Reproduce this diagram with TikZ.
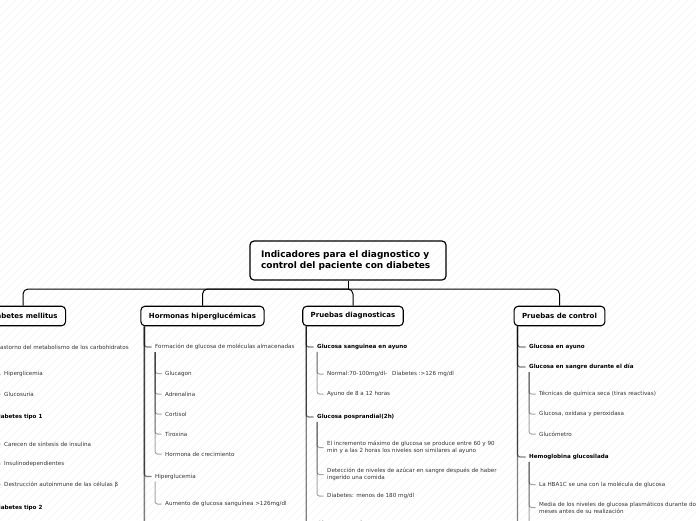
\documentclass[tikz,border=0pt]{standalone}
\usepackage{fontspec}
\setmainfont{DejaVu Sans}
\usepackage{tikz}
\usetikzlibrary{positioning,calc}

\newcommand{\fnroot}{\fontsize{9}{11}\selectfont\bfseries}
\newcommand{\fntopic}{\fontsize{7}{8.5}\selectfont\bfseries}
\newcommand{\fnsub}{\fontsize{5.6}{7}\selectfont\bfseries}
\newcommand{\fnleaf}{\fontsize{5.6}{7}\selectfont}

\begin{document}
\begin{tikzpicture}[
    x=1pt, y=-1pt,
    root/.style={rectangle, rounded corners=4pt, draw=black, line width=1.2pt,
                 align=left, text width=174pt, inner xsep=11pt, minimum height=39pt, font=\fnroot},
    topic/.style={rectangle, rounded corners=4pt, draw=black, line width=1.1pt,
                  minimum height=19.5pt, inner xsep=8pt, font=\fntopic},
    sub/.style={anchor=west, inner sep=0pt, align=left, text=black, font=\fnsub},
    leaf/.style={anchor=west, inner sep=0pt, align=left, text=black!80, font=\fnleaf},
    edge/.style={draw=black, line width=1pt, rounded corners=5pt},
    branch/.style={draw=black, draw opacity=0.5, line width=1.3pt, rounded corners=2.5pt, shorten >=3.5pt},
    twig/.style={draw=black, draw opacity=0.35, line width=1pt, rounded corners=2.5pt, shorten >=3.5pt},
    hatch/.style={draw=black!5, line width=0.4pt}
]
\useasboundingbox (0,0) rectangle (696,520);
\begin{scope}
\clip (0,0) rectangle (696,520);
\foreach \i in {0,8,...,1224} \draw[hatch] ({\i-520},520) -- (\i,0);
\end{scope}

\node[root] (root) at (348,260.5) {Indicadores para el diagnostico y\\control del paciente con diabetes};
\coordinate (hub) at (348,289);
\node[topic] (dm) at (23,316) {Diabetes mellitus};
\node[topic] (hh) at (202.5,316) {Hormonas hiperglucémicas};
\node[topic] (pd) at (353,316) {Pruebas diagnosticas};
\node[topic] (pc) at (559.5,316) {Pruebas de control};
\draw[edge] (root.south) -- (hub);
\draw[edge] (hub) -| (dm.north); \draw[edge] (hub) -| (hh.north);
\draw[edge] (hub) -| (pd.north); \draw[edge] (hub) -| (pc.north);

\node[leaf] (dm1) at (-5,347) {Trastorno del metabolismo de los carbohidratos};
\node[leaf] (dm11) at (4,374) {Hiperglicemia};
\node[leaf] (dm12) at (4,394) {Glucosuria};
\node[sub] (dm2) at (-6,417) {Diabetes tipo 1};
\node[leaf] (dm21) at (4,444) {Carecen de síntesis de insulina};
\node[leaf] (dm22) at (4,464) {Insulinodependientes};
\node[leaf] (dm23) at (4,484.5) {Destrucción autoinmune de las células β};
\node[sub] (dm3) at (-6,508) {Diabetes tipo 2};
\draw[branch] ([xshift=4pt]dm.south west) |- (dm1.west); \draw[branch] ([xshift=4pt]dm.south west) |- (dm2.west);
\draw[branch] ([xshift=4pt]dm.south west) |- (dm3.west);
\draw[twig] ([yshift=-2pt]dm1.south west) |- (dm11.west); \draw[twig] ([yshift=-2pt]dm1.south west) |- (dm12.west);
\draw[twig] ([yshift=-2pt]dm2.south west) |- (dm21.west); \draw[twig] ([yshift=-2pt]dm2.south west) |- (dm22.west);
\draw[twig] ([yshift=-2pt]dm2.south west) |- (dm23.west);

\node[leaf] (hh1) at (155,347) {Formación de glucosa de moléculas almacenadas};
\node[leaf] (hh11) at (165,373.5) {Glucagon};
\node[leaf] (hh12) at (165,394) {Adrenalina};
\node[leaf] (hh13) at (165,414) {Cortisol};
\node[leaf] (hh14) at (165,434) {Tiroxina};
\node[leaf] (hh15) at (165,454) {Hormona de crecimiento};
\node[leaf] (hh2) at (155,476.5) {Hiperglucemia};
\node[leaf] (hh21) at (165,504) {Aumento de glucosa sanguínea >126mg/dl};
\coordinate (hh3) at (155,540);
\draw[branch] ([xshift=4pt]hh.south west) |- (hh1.west); \draw[branch] ([xshift=4pt]hh.south west) |- (hh2.west);
\draw[branch] ([xshift=4pt]hh.south west) |- (hh3);
\draw[twig] ([yshift=-2pt]hh1.south west) |- (hh11.west); \draw[twig] ([yshift=-2pt]hh1.south west) |- (hh12.west);
\draw[twig] ([yshift=-2pt]hh1.south west) |- (hh13.west); \draw[twig] ([yshift=-2pt]hh1.south west) |- (hh14.west);
\draw[twig] ([yshift=-2pt]hh1.south west) |- (hh15.west);
\draw[twig] ([yshift=-2pt]hh2.south west) |- (hh21.west);

\node[sub] (pd1) at (317,347) {Glucosa sanguinea en ayuno};
\node[leaf] (pd11) at (327,374) {Normal:70-100mg/dl-\hspace{5pt}Diabetes :>126 mg/dl};
\node[leaf] (pd12) at (327,394) {Ayuno de 8 a 12 horas};
\node[sub] (pd2) at (317,417) {Glucosa posprandial(2h)};
\node[leaf] (pd21) at (327,447.5) {El incremento máximo de glucosa se produce entre 60 y 90\\min y a las 2 horas los niveles son similares al ayuno};
\node[leaf] (pd22) at (327,474.5) {Detección de niveles de azúcar en sangre después de haber\\ingerido una comida};
\node[leaf] (pd23) at (327,496) {Diabetes: menos de 180 mg/dl};
\node[sub] (pd3) at (317,523.5) {Glucosa en orina};
\draw[branch] ([xshift=4pt]pd.south west) |- (pd1.west); \draw[branch] ([xshift=4pt]pd.south west) |- (pd2.west);
\draw[branch] ([xshift=4pt]pd.south west) |- (pd3.west);
\draw[twig] ([yshift=-2pt]pd1.south west) |- (pd11.west); \draw[twig] ([yshift=-2pt]pd1.south west) |- (pd12.west);
\draw[twig] ([yshift=-2pt]pd2.south west) |- (pd21.west); \draw[twig] ([yshift=-2pt]pd2.south west) |- (pd22.west);
\draw[twig] ([yshift=-2pt]pd2.south west) |- (pd23.west);

\node[sub] (pc1) at (529,347) {Glucosa en ayuno};
\node[sub] (pc2) at (529,367) {Glucosa en sangre durante el día};
\node[leaf] (pc21) at (539,394) {Técnicas de química seca (tiras reactivas)};
\node[leaf] (pc22) at (539,414) {Glucosa, oxidasa y peroxidasa};
\node[leaf] (pc23) at (539,434) {Glucómetro};
\node[sub] (pc3) at (529,457) {Hemoglobina glucosilada};
\node[leaf] (pc31) at (539,484.5) {La HBA1C se una con la molécula de glucosa};
\node[leaf] (pc32) at (539,507.5) {Media de los niveles de glucosa plasmáticos durante dos\\meses antes de su realización};
\coordinate (pc33) at (539,540);
\coordinate (pc4) at (529,550);
\draw[branch] ([xshift=4pt]pc.south west) |- (pc1.west); \draw[branch] ([xshift=4pt]pc.south west) |- (pc2.west);
\draw[branch] ([xshift=4pt]pc.south west) |- (pc3.west); \draw[branch] ([xshift=4pt]pc.south west) |- (pc4);
\draw[twig] ([yshift=-2pt]pc2.south west) |- (pc21.west); \draw[twig] ([yshift=-2pt]pc2.south west) |- (pc22.west);
\draw[twig] ([yshift=-2pt]pc2.south west) |- (pc23.west);
\draw[twig] ([yshift=-2pt]pc3.south west) |- (pc31.west); \draw[twig] ([yshift=-2pt]pc3.south west) |- (pc32.west);
\draw[twig] ([yshift=-2pt]pc3.south west) |- (pc33);
\end{tikzpicture}
\end{document}
